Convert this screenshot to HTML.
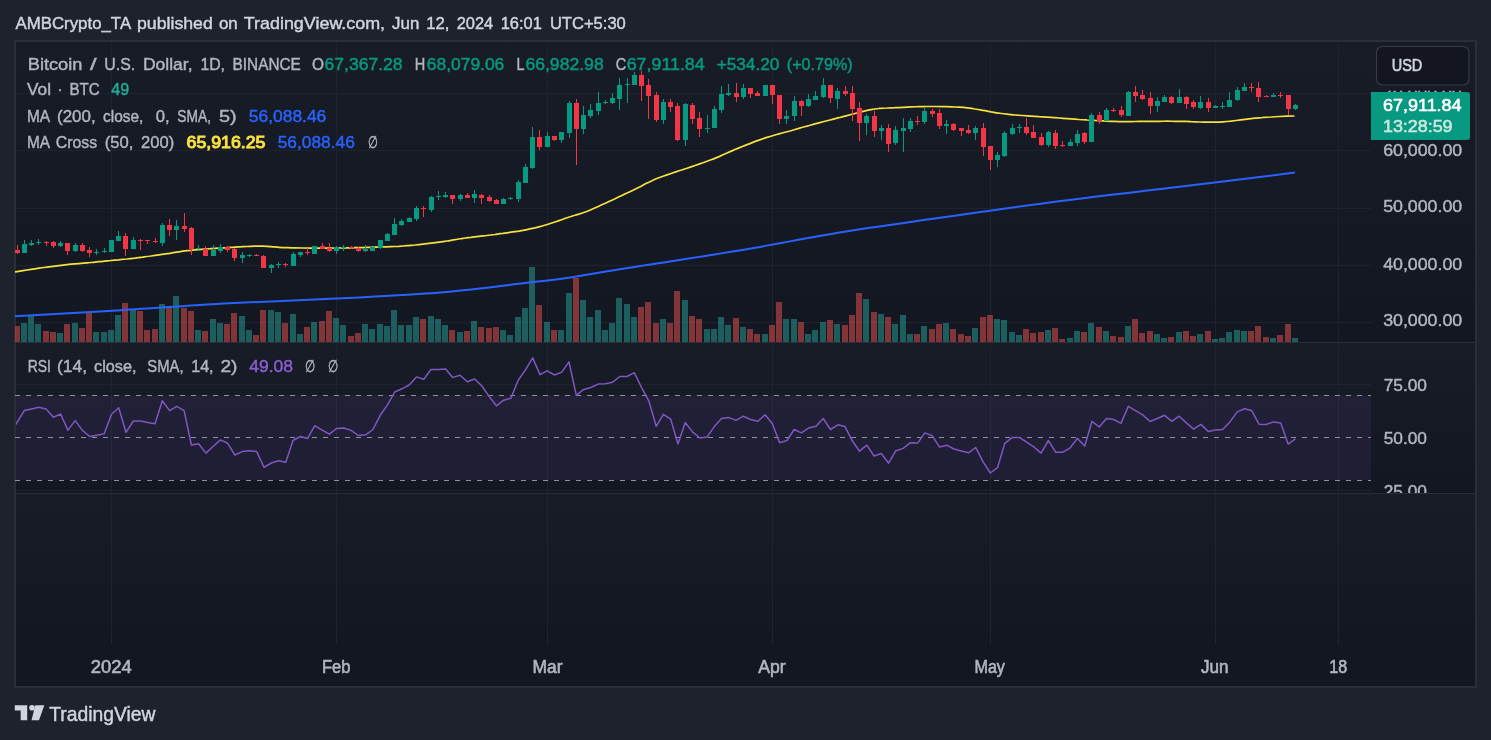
<!DOCTYPE html>
<html><head><meta charset="utf-8"><style>html,body{margin:0;padding:0;background:#1e222d;width:1491px;height:740px;overflow:hidden}svg{display:block;will-change:transform}</style></head>
<body><svg width="1491" height="740" viewBox="0 0 1491 740"><rect x="0" y="0" width="1491" height="740" fill="#1e222d"/><defs><linearGradient id="bg" x1="0" y1="0" x2="0" y2="1"><stop offset="0" stop-color="#181c27"/><stop offset="1" stop-color="#131722"/></linearGradient><clipPath id="main"><rect x="15" y="42" width="1356" height="300"/></clipPath><clipPath id="rsi"><rect x="16" y="343" width="1355" height="150"/></clipPath></defs><rect x="14" y="40" width="1463" height="648" fill="#2a2e39"/><rect x="16" y="42" width="1459" height="644" fill="#131722"/><rect x="16" y="42" width="1459" height="300" fill="url(#bg)"/><rect x="16" y="343" width="1459" height="150" fill="url(#bg)"/><rect x="16" y="494" width="1459" height="151" fill="url(#bg)"/><rect x="111" y="42" width="1" height="603" fill="#1f2330"/><rect x="336" y="42" width="1" height="603" fill="#1f2330"/><rect x="547" y="42" width="1" height="603" fill="#1f2330"/><rect x="772" y="42" width="1" height="603" fill="#1f2330"/><rect x="990" y="42" width="1" height="603" fill="#1f2330"/><rect x="1215" y="42" width="1" height="603" fill="#1f2330"/><rect x="1338" y="42" width="1" height="603" fill="#1f2330"/><rect x="16" y="93" width="1355" height="1" fill="#1f2330"/><rect x="16" y="150" width="1355" height="1" fill="#1f2330"/><rect x="16" y="208" width="1355" height="1" fill="#1f2330"/><rect x="16" y="265" width="1355" height="1" fill="#1f2330"/><rect x="16" y="322" width="1355" height="1" fill="#1f2330"/><rect x="16" y="342" width="1459" height="1" fill="#2a2e39"/><rect x="16" y="493" width="1459" height="1" fill="#2a2e39"/><rect x="16" y="384" width="1355" height="1" fill="#1f2330"/><rect x="16" y="490" width="1355" height="1" fill="#1f2330"/><g clip-path="url(#main)"><rect x="14" y="326" width="6" height="16" fill="rgba(239,83,80,0.5)"/><rect x="21" y="323" width="6" height="19" fill="rgba(38,166,154,0.5)"/><rect x="28" y="316" width="6" height="26" fill="rgba(38,166,154,0.5)"/><rect x="35" y="324" width="6" height="18" fill="rgba(38,166,154,0.5)"/><rect x="43" y="331" width="6" height="11" fill="rgba(239,83,80,0.5)"/><rect x="50" y="332" width="6" height="10" fill="rgba(239,83,80,0.5)"/><rect x="57" y="333" width="6" height="9" fill="rgba(38,166,154,0.5)"/><rect x="64" y="324" width="6" height="18" fill="rgba(239,83,80,0.5)"/><rect x="72" y="323" width="6" height="19" fill="rgba(38,166,154,0.5)"/><rect x="79" y="328" width="6" height="14" fill="rgba(239,83,80,0.5)"/><rect x="86" y="312" width="6" height="30" fill="rgba(239,83,80,0.5)"/><rect x="93" y="332" width="6" height="10" fill="rgba(38,166,154,0.5)"/><rect x="101" y="332" width="6" height="10" fill="rgba(38,166,154,0.5)"/><rect x="108" y="330" width="6" height="12" fill="rgba(38,166,154,0.5)"/><rect x="115" y="315" width="6" height="27" fill="rgba(38,166,154,0.5)"/><rect x="122" y="303" width="6" height="39" fill="rgba(239,83,80,0.5)"/><rect x="130" y="309" width="6" height="33" fill="rgba(38,166,154,0.5)"/><rect x="137" y="311" width="6" height="31" fill="rgba(239,83,80,0.5)"/><rect x="144" y="330" width="6" height="12" fill="rgba(239,83,80,0.5)"/><rect x="152" y="329" width="6" height="13" fill="rgba(239,83,80,0.5)"/><rect x="159" y="304" width="6" height="38" fill="rgba(38,166,154,0.5)"/><rect x="166" y="306" width="6" height="36" fill="rgba(239,83,80,0.5)"/><rect x="173" y="296" width="6" height="46" fill="rgba(38,166,154,0.5)"/><rect x="181" y="308" width="6" height="34" fill="rgba(239,83,80,0.5)"/><rect x="188" y="311" width="6" height="31" fill="rgba(239,83,80,0.5)"/><rect x="195" y="330" width="6" height="12" fill="rgba(38,166,154,0.5)"/><rect x="202" y="331" width="6" height="11" fill="rgba(239,83,80,0.5)"/><rect x="210" y="319" width="6" height="23" fill="rgba(38,166,154,0.5)"/><rect x="217" y="323" width="6" height="19" fill="rgba(38,166,154,0.5)"/><rect x="224" y="324" width="6" height="18" fill="rgba(239,83,80,0.5)"/><rect x="231" y="313" width="6" height="29" fill="rgba(239,83,80,0.5)"/><rect x="239" y="316" width="6" height="26" fill="rgba(38,166,154,0.5)"/><rect x="246" y="330" width="6" height="12" fill="rgba(38,166,154,0.5)"/><rect x="253" y="335" width="6" height="7" fill="rgba(239,83,80,0.5)"/><rect x="260" y="310" width="6" height="32" fill="rgba(239,83,80,0.5)"/><rect x="268" y="310" width="6" height="32" fill="rgba(38,166,154,0.5)"/><rect x="275" y="312" width="6" height="30" fill="rgba(38,166,154,0.5)"/><rect x="282" y="323" width="6" height="19" fill="rgba(239,83,80,0.5)"/><rect x="290" y="314" width="6" height="28" fill="rgba(38,166,154,0.5)"/><rect x="297" y="334" width="6" height="8" fill="rgba(38,166,154,0.5)"/><rect x="304" y="327" width="6" height="15" fill="rgba(239,83,80,0.5)"/><rect x="311" y="322" width="6" height="20" fill="rgba(38,166,154,0.5)"/><rect x="319" y="321" width="6" height="21" fill="rgba(239,83,80,0.5)"/><rect x="326" y="311" width="6" height="31" fill="rgba(239,83,80,0.5)"/><rect x="333" y="318" width="6" height="24" fill="rgba(38,166,154,0.5)"/><rect x="340" y="325" width="6" height="17" fill="rgba(38,166,154,0.5)"/><rect x="348" y="336" width="6" height="6" fill="rgba(239,83,80,0.5)"/><rect x="355" y="333" width="6" height="9" fill="rgba(239,83,80,0.5)"/><rect x="362" y="324" width="6" height="18" fill="rgba(38,166,154,0.5)"/><rect x="369" y="329" width="6" height="13" fill="rgba(38,166,154,0.5)"/><rect x="377" y="324" width="6" height="18" fill="rgba(38,166,154,0.5)"/><rect x="384" y="326" width="6" height="16" fill="rgba(38,166,154,0.5)"/><rect x="391" y="310" width="6" height="32" fill="rgba(38,166,154,0.5)"/><rect x="398" y="325" width="6" height="17" fill="rgba(38,166,154,0.5)"/><rect x="406" y="325" width="6" height="17" fill="rgba(38,166,154,0.5)"/><rect x="413" y="317" width="6" height="25" fill="rgba(38,166,154,0.5)"/><rect x="420" y="319" width="6" height="23" fill="rgba(239,83,80,0.5)"/><rect x="428" y="316" width="6" height="26" fill="rgba(38,166,154,0.5)"/><rect x="435" y="319" width="6" height="23" fill="rgba(38,166,154,0.5)"/><rect x="442" y="325" width="6" height="17" fill="rgba(38,166,154,0.5)"/><rect x="449" y="330" width="6" height="12" fill="rgba(239,83,80,0.5)"/><rect x="457" y="332" width="6" height="10" fill="rgba(38,166,154,0.5)"/><rect x="464" y="331" width="6" height="11" fill="rgba(239,83,80,0.5)"/><rect x="471" y="321" width="6" height="21" fill="rgba(38,166,154,0.5)"/><rect x="478" y="327" width="6" height="15" fill="rgba(239,83,80,0.5)"/><rect x="486" y="328" width="6" height="14" fill="rgba(239,83,80,0.5)"/><rect x="493" y="327" width="6" height="15" fill="rgba(239,83,80,0.5)"/><rect x="500" y="330" width="6" height="12" fill="rgba(38,166,154,0.5)"/><rect x="507" y="335" width="6" height="7" fill="rgba(38,166,154,0.5)"/><rect x="515" y="317" width="6" height="25" fill="rgba(38,166,154,0.5)"/><rect x="522" y="308" width="6" height="34" fill="rgba(38,166,154,0.5)"/><rect x="529" y="267" width="6" height="75" fill="rgba(38,166,154,0.5)"/><rect x="536" y="305" width="6" height="37" fill="rgba(239,83,80,0.5)"/><rect x="544" y="322" width="6" height="20" fill="rgba(38,166,154,0.5)"/><rect x="551" y="330" width="6" height="12" fill="rgba(239,83,80,0.5)"/><rect x="558" y="330" width="6" height="12" fill="rgba(38,166,154,0.5)"/><rect x="566" y="293" width="6" height="49" fill="rgba(38,166,154,0.5)"/><rect x="573" y="278" width="6" height="64" fill="rgba(239,83,80,0.5)"/><rect x="580" y="300" width="6" height="42" fill="rgba(38,166,154,0.5)"/><rect x="587" y="317" width="6" height="25" fill="rgba(38,166,154,0.5)"/><rect x="595" y="310" width="6" height="32" fill="rgba(38,166,154,0.5)"/><rect x="602" y="330" width="6" height="12" fill="rgba(38,166,154,0.5)"/><rect x="609" y="323" width="6" height="19" fill="rgba(38,166,154,0.5)"/><rect x="616" y="298" width="6" height="44" fill="rgba(38,166,154,0.5)"/><rect x="624" y="304" width="6" height="38" fill="rgba(38,166,154,0.5)"/><rect x="631" y="317" width="6" height="25" fill="rgba(38,166,154,0.5)"/><rect x="638" y="307" width="6" height="35" fill="rgba(239,83,80,0.5)"/><rect x="645" y="302" width="6" height="40" fill="rgba(239,83,80,0.5)"/><rect x="653" y="323" width="6" height="19" fill="rgba(239,83,80,0.5)"/><rect x="660" y="319" width="6" height="23" fill="rgba(38,166,154,0.5)"/><rect x="667" y="323" width="6" height="19" fill="rgba(239,83,80,0.5)"/><rect x="674" y="291" width="6" height="51" fill="rgba(239,83,80,0.5)"/><rect x="682" y="300" width="6" height="42" fill="rgba(38,166,154,0.5)"/><rect x="689" y="316" width="6" height="26" fill="rgba(239,83,80,0.5)"/><rect x="696" y="319" width="6" height="23" fill="rgba(239,83,80,0.5)"/><rect x="704" y="329" width="6" height="13" fill="rgba(38,166,154,0.5)"/><rect x="711" y="329" width="6" height="13" fill="rgba(38,166,154,0.5)"/><rect x="718" y="317" width="6" height="25" fill="rgba(38,166,154,0.5)"/><rect x="725" y="325" width="6" height="17" fill="rgba(38,166,154,0.5)"/><rect x="733" y="318" width="6" height="24" fill="rgba(239,83,80,0.5)"/><rect x="740" y="327" width="6" height="15" fill="rgba(38,166,154,0.5)"/><rect x="747" y="329" width="6" height="13" fill="rgba(239,83,80,0.5)"/><rect x="754" y="334" width="6" height="8" fill="rgba(239,83,80,0.5)"/><rect x="762" y="334" width="6" height="8" fill="rgba(38,166,154,0.5)"/><rect x="769" y="325" width="6" height="17" fill="rgba(239,83,80,0.5)"/><rect x="776" y="302" width="6" height="40" fill="rgba(239,83,80,0.5)"/><rect x="783" y="319" width="6" height="23" fill="rgba(38,166,154,0.5)"/><rect x="791" y="319" width="6" height="23" fill="rgba(38,166,154,0.5)"/><rect x="798" y="322" width="6" height="20" fill="rgba(239,83,80,0.5)"/><rect x="805" y="334" width="6" height="8" fill="rgba(38,166,154,0.5)"/><rect x="812" y="330" width="6" height="12" fill="rgba(38,166,154,0.5)"/><rect x="820" y="322" width="6" height="20" fill="rgba(38,166,154,0.5)"/><rect x="827" y="320" width="6" height="22" fill="rgba(239,83,80,0.5)"/><rect x="834" y="324" width="6" height="18" fill="rgba(38,166,154,0.5)"/><rect x="842" y="325" width="6" height="17" fill="rgba(239,83,80,0.5)"/><rect x="849" y="315" width="6" height="27" fill="rgba(239,83,80,0.5)"/><rect x="856" y="293" width="6" height="49" fill="rgba(239,83,80,0.5)"/><rect x="863" y="299" width="6" height="43" fill="rgba(38,166,154,0.5)"/><rect x="871" y="312" width="6" height="30" fill="rgba(239,83,80,0.5)"/><rect x="878" y="314" width="6" height="28" fill="rgba(38,166,154,0.5)"/><rect x="885" y="317" width="6" height="25" fill="rgba(239,83,80,0.5)"/><rect x="892" y="324" width="6" height="18" fill="rgba(38,166,154,0.5)"/><rect x="900" y="315" width="6" height="27" fill="rgba(38,166,154,0.5)"/><rect x="907" y="334" width="6" height="8" fill="rgba(38,166,154,0.5)"/><rect x="914" y="334" width="6" height="8" fill="rgba(239,83,80,0.5)"/><rect x="921" y="326" width="6" height="16" fill="rgba(38,166,154,0.5)"/><rect x="929" y="329" width="6" height="13" fill="rgba(239,83,80,0.5)"/><rect x="936" y="324" width="6" height="18" fill="rgba(239,83,80,0.5)"/><rect x="943" y="323" width="6" height="19" fill="rgba(38,166,154,0.5)"/><rect x="950" y="329" width="6" height="13" fill="rgba(239,83,80,0.5)"/><rect x="958" y="334" width="6" height="8" fill="rgba(239,83,80,0.5)"/><rect x="965" y="336" width="6" height="6" fill="rgba(239,83,80,0.5)"/><rect x="972" y="328" width="6" height="14" fill="rgba(38,166,154,0.5)"/><rect x="980" y="317" width="6" height="25" fill="rgba(239,83,80,0.5)"/><rect x="987" y="315" width="6" height="27" fill="rgba(239,83,80,0.5)"/><rect x="994" y="319" width="6" height="23" fill="rgba(38,166,154,0.5)"/><rect x="1001" y="320" width="6" height="22" fill="rgba(38,166,154,0.5)"/><rect x="1009" y="332" width="6" height="10" fill="rgba(38,166,154,0.5)"/><rect x="1016" y="335" width="6" height="7" fill="rgba(38,166,154,0.5)"/><rect x="1023" y="329" width="6" height="13" fill="rgba(239,83,80,0.5)"/><rect x="1030" y="333" width="6" height="9" fill="rgba(239,83,80,0.5)"/><rect x="1038" y="332" width="6" height="10" fill="rgba(239,83,80,0.5)"/><rect x="1045" y="330" width="6" height="12" fill="rgba(38,166,154,0.5)"/><rect x="1052" y="328" width="6" height="14" fill="rgba(239,83,80,0.5)"/><rect x="1059" y="339" width="6" height="3" fill="rgba(239,83,80,0.5)"/><rect x="1067" y="338" width="6" height="4" fill="rgba(38,166,154,0.5)"/><rect x="1074" y="331" width="6" height="11" fill="rgba(38,166,154,0.5)"/><rect x="1081" y="332" width="6" height="10" fill="rgba(239,83,80,0.5)"/><rect x="1088" y="323" width="6" height="19" fill="rgba(38,166,154,0.5)"/><rect x="1096" y="327" width="6" height="15" fill="rgba(239,83,80,0.5)"/><rect x="1103" y="331" width="6" height="11" fill="rgba(38,166,154,0.5)"/><rect x="1110" y="336" width="6" height="6" fill="rgba(239,83,80,0.5)"/><rect x="1118" y="337" width="6" height="5" fill="rgba(239,83,80,0.5)"/><rect x="1125" y="326" width="6" height="16" fill="rgba(38,166,154,0.5)"/><rect x="1132" y="319" width="6" height="23" fill="rgba(239,83,80,0.5)"/><rect x="1139" y="333" width="6" height="9" fill="rgba(239,83,80,0.5)"/><rect x="1147" y="331" width="6" height="11" fill="rgba(239,83,80,0.5)"/><rect x="1154" y="334" width="6" height="8" fill="rgba(38,166,154,0.5)"/><rect x="1161" y="338" width="6" height="4" fill="rgba(38,166,154,0.5)"/><rect x="1168" y="337" width="6" height="5" fill="rgba(239,83,80,0.5)"/><rect x="1176" y="332" width="6" height="10" fill="rgba(38,166,154,0.5)"/><rect x="1183" y="331" width="6" height="11" fill="rgba(239,83,80,0.5)"/><rect x="1190" y="336" width="6" height="6" fill="rgba(239,83,80,0.5)"/><rect x="1197" y="334" width="6" height="8" fill="rgba(38,166,154,0.5)"/><rect x="1205" y="331" width="6" height="11" fill="rgba(239,83,80,0.5)"/><rect x="1212" y="339" width="6" height="3" fill="rgba(38,166,154,0.5)"/><rect x="1219" y="338" width="6" height="4" fill="rgba(38,166,154,0.5)"/><rect x="1226" y="332" width="6" height="10" fill="rgba(38,166,154,0.5)"/><rect x="1234" y="330" width="6" height="12" fill="rgba(38,166,154,0.5)"/><rect x="1241" y="331" width="6" height="11" fill="rgba(38,166,154,0.5)"/><rect x="1248" y="331" width="6" height="11" fill="rgba(239,83,80,0.5)"/><rect x="1255" y="326" width="6" height="16" fill="rgba(239,83,80,0.5)"/><rect x="1263" y="337" width="6" height="5" fill="rgba(239,83,80,0.5)"/><rect x="1270" y="338" width="6" height="4" fill="rgba(38,166,154,0.5)"/><rect x="1277" y="335" width="6" height="7" fill="rgba(239,83,80,0.5)"/><rect x="1285" y="324" width="6" height="18" fill="rgba(239,83,80,0.5)"/><rect x="1292" y="338" width="6" height="4" fill="rgba(38,166,154,0.5)"/><path d="M14.0,316.2 C31.9,315.2 85.5,312.3 121.3,310.2 C157.1,308.1 192.8,305.2 228.6,303.3 C264.4,301.4 300.1,300.5 335.9,298.6 C371.7,296.8 411.0,294.9 443.2,292.2 C475.4,289.5 507.5,285.0 529.0,282.5 C550.5,280.0 553.5,279.9 572.0,277.2 C590.5,274.4 611.9,270.5 640.0,266.0 C668.1,261.5 707.1,255.9 740.6,250.3 C774.1,244.7 808.0,237.6 841.2,232.2 C874.4,226.8 903.4,223.0 940.0,217.8 C976.6,212.6 1020.5,206.2 1060.7,201.0 C1100.9,195.8 1142.4,191.3 1181.4,186.6 C1220.5,181.9 1276.1,174.9 1295.0,172.6" fill="none" stroke="#2962ff" stroke-width="2"/><path d="M15.0,271.9 C16.3,271.7 20.3,271.1 23.0,270.6 C25.7,270.2 28.3,269.8 31.0,269.4 C33.7,269.0 36.3,268.6 39.0,268.2 C41.7,267.9 44.3,267.5 47.0,267.1 C49.7,266.8 52.3,266.4 55.0,266.1 C57.7,265.8 60.3,265.4 63.0,265.1 C65.7,264.8 68.3,264.5 71.0,264.2 C73.7,264.0 76.3,263.8 79.0,263.6 C81.7,263.4 84.3,263.2 87.0,262.9 C89.7,262.6 92.3,262.4 95.0,262.1 C97.7,261.8 100.3,261.6 103.0,261.3 C105.7,261.0 108.3,260.8 111.0,260.5 C113.7,260.2 116.3,260.0 119.0,259.8 C121.7,259.5 124.3,259.2 127.0,259.0 C129.7,258.7 132.3,258.4 135.0,258.1 C137.7,257.7 140.3,257.4 143.0,257.1 C145.7,256.7 148.3,256.3 151.0,256.0 C153.7,255.6 156.3,255.2 159.0,254.8 C161.7,254.5 164.3,254.1 167.0,253.7 C169.7,253.3 172.3,252.8 175.0,252.4 C177.7,252.0 180.3,251.6 183.0,251.2 C185.7,250.8 188.3,250.5 191.0,250.3 C193.7,250.0 196.3,249.8 199.0,249.6 C201.7,249.3 204.3,249.2 207.0,249.0 C209.7,248.8 212.3,248.6 215.0,248.4 C217.7,248.3 220.3,248.1 223.0,247.9 C225.7,247.7 228.3,247.6 231.0,247.4 C233.7,247.2 236.3,247.1 239.0,246.9 C241.7,246.8 244.3,246.6 247.0,246.5 C249.7,246.3 252.3,246.2 255.0,246.1 C257.7,246.1 260.3,246.1 263.0,246.2 C265.7,246.3 268.3,246.5 271.0,246.6 C273.7,246.8 276.3,247.1 279.0,247.3 C281.7,247.5 284.3,247.6 287.0,247.7 C289.7,247.8 292.3,247.9 295.0,247.9 C297.7,248.0 300.3,248.0 303.0,248.0 C305.7,248.1 308.3,248.1 311.0,248.1 C313.7,248.1 316.3,248.1 319.0,248.1 C321.7,248.1 324.3,248.1 327.0,248.1 C329.7,248.1 332.3,248.0 335.0,248.0 C337.7,248.0 340.3,248.0 343.0,247.9 C345.7,247.9 348.3,247.9 351.0,247.8 C353.7,247.7 356.3,247.7 359.0,247.6 C361.7,247.6 364.3,247.5 367.0,247.4 C369.7,247.3 372.3,247.3 375.0,247.2 C377.7,247.1 380.3,247.0 383.0,246.9 C385.7,246.9 388.3,246.8 391.0,246.7 C393.7,246.6 396.3,246.4 399.0,246.3 C401.7,246.1 404.3,245.9 407.0,245.7 C409.7,245.5 412.3,245.2 415.0,245.0 C417.7,244.7 420.3,244.4 423.0,244.1 C425.7,243.8 428.3,243.5 431.0,243.2 C433.7,242.9 436.3,242.6 439.0,242.2 C441.7,241.8 444.3,241.4 447.0,241.0 C449.7,240.6 452.3,240.0 455.0,239.6 C457.7,239.1 460.3,238.8 463.0,238.4 C465.7,238.0 468.3,237.6 471.0,237.3 C473.7,236.9 476.3,236.6 479.0,236.3 C481.7,236.0 484.3,235.8 487.0,235.5 C489.7,235.2 492.3,234.8 495.0,234.5 C497.7,234.1 500.3,233.7 503.0,233.4 C505.7,233.0 508.3,232.6 511.0,232.2 C513.7,231.8 516.3,231.5 519.0,231.1 C521.7,230.6 524.3,230.1 527.0,229.6 C529.7,229.1 532.3,228.5 535.0,227.9 C537.7,227.2 540.3,226.5 543.0,225.8 C545.7,225.0 548.3,224.2 551.0,223.3 C553.7,222.4 556.3,221.5 559.0,220.6 C561.7,219.7 564.3,218.7 567.0,217.8 C569.7,217.0 572.3,216.1 575.0,215.3 C577.7,214.4 580.3,213.7 583.0,212.7 C585.7,211.8 588.3,210.8 591.0,209.7 C593.7,208.6 596.3,207.4 599.0,206.2 C601.7,205.0 604.3,203.7 607.0,202.5 C609.7,201.2 612.3,199.9 615.0,198.7 C617.7,197.4 620.3,196.2 623.0,194.9 C625.7,193.7 628.3,192.5 631.0,191.2 C633.7,189.9 636.3,188.6 639.0,187.3 C641.7,185.9 644.3,184.4 647.0,183.1 C649.7,181.8 652.3,180.5 655.0,179.3 C657.7,178.2 660.3,177.2 663.0,176.2 C665.7,175.3 668.3,174.4 671.0,173.5 C673.7,172.6 676.3,171.7 679.0,170.8 C681.7,170.0 684.3,169.1 687.0,168.2 C689.7,167.3 692.3,166.4 695.0,165.5 C697.7,164.6 700.3,163.7 703.0,162.8 C705.7,161.8 708.3,160.8 711.0,159.8 C713.7,158.8 716.3,157.7 719.0,156.6 C721.7,155.4 724.3,154.2 727.0,153.0 C729.7,151.9 732.3,150.7 735.0,149.5 C737.7,148.4 740.3,147.3 743.0,146.2 C745.7,145.2 748.3,144.1 751.0,143.1 C753.7,142.0 756.3,141.0 759.0,140.1 C761.7,139.1 764.3,138.3 767.0,137.4 C769.7,136.6 772.3,135.8 775.0,135.0 C777.7,134.2 780.3,133.6 783.0,132.8 C785.7,132.1 788.3,131.4 791.0,130.7 C793.7,129.9 796.3,129.2 799.0,128.4 C801.7,127.7 804.3,126.9 807.0,126.1 C809.7,125.4 812.3,124.6 815.0,123.9 C817.7,123.2 820.3,122.5 823.0,121.8 C825.7,121.1 828.3,120.4 831.0,119.7 C833.7,119.0 836.3,118.3 839.0,117.7 C841.7,117.0 844.3,116.3 847.0,115.6 C849.7,114.9 852.3,114.2 855.0,113.5 C857.7,112.8 860.3,112.1 863.0,111.4 C865.7,110.8 868.3,110.2 871.0,109.7 C873.7,109.2 876.3,108.8 879.0,108.5 C881.7,108.3 884.3,108.1 887.0,108.0 C889.7,107.8 892.3,107.8 895.0,107.7 C897.7,107.5 900.3,107.4 903.0,107.3 C905.7,107.2 908.3,107.0 911.0,106.9 C913.7,106.8 916.3,106.7 919.0,106.6 C921.7,106.6 924.3,106.5 927.0,106.5 C929.7,106.5 932.3,106.5 935.0,106.5 C937.7,106.5 940.3,106.5 943.0,106.6 C945.7,106.7 948.3,106.7 951.0,106.8 C953.7,106.9 956.3,107.1 959.0,107.2 C961.7,107.4 964.3,107.6 967.0,107.9 C969.7,108.2 972.3,108.5 975.0,109.0 C977.7,109.4 980.3,109.9 983.0,110.4 C985.7,110.8 988.3,111.4 991.0,111.9 C993.7,112.3 996.3,112.8 999.0,113.2 C1001.7,113.6 1004.3,114.0 1007.0,114.2 C1009.7,114.5 1012.3,114.7 1015.0,115.0 C1017.7,115.2 1020.3,115.3 1023.0,115.5 C1025.7,115.7 1028.3,115.9 1031.0,116.1 C1033.7,116.3 1036.3,116.5 1039.0,116.7 C1041.7,116.8 1044.3,117.0 1047.0,117.2 C1049.7,117.4 1052.3,117.5 1055.0,117.7 C1057.7,117.9 1060.3,118.1 1063.0,118.3 C1065.7,118.5 1068.3,118.7 1071.0,118.9 C1073.7,119.1 1076.3,119.3 1079.0,119.5 C1081.7,119.6 1084.3,119.8 1087.0,120.0 C1089.7,120.1 1092.3,120.3 1095.0,120.5 C1097.7,120.6 1100.3,120.8 1103.0,120.9 C1105.7,121.1 1108.3,121.2 1111.0,121.3 C1113.7,121.4 1116.3,121.5 1119.0,121.6 C1121.7,121.6 1124.3,121.6 1127.0,121.6 C1129.7,121.6 1132.3,121.5 1135.0,121.5 C1137.7,121.5 1140.3,121.4 1143.0,121.4 C1145.7,121.4 1148.3,121.4 1151.0,121.3 C1153.7,121.3 1156.3,121.3 1159.0,121.3 C1161.7,121.3 1164.3,121.2 1167.0,121.2 C1169.7,121.2 1172.3,121.3 1175.0,121.3 C1177.7,121.3 1180.3,121.3 1183.0,121.3 C1185.7,121.4 1188.3,121.4 1191.0,121.6 C1193.7,121.7 1196.3,121.9 1199.0,122.0 C1201.7,122.1 1204.3,122.2 1207.0,122.2 C1209.7,122.2 1212.3,122.2 1215.0,122.1 C1217.7,122.1 1220.3,122.0 1223.0,121.8 C1225.7,121.6 1228.3,121.4 1231.0,121.2 C1233.7,120.9 1236.3,120.5 1239.0,120.1 C1241.7,119.8 1244.3,119.4 1247.0,119.1 C1249.7,118.8 1252.3,118.5 1255.0,118.2 C1257.7,118.0 1260.3,117.7 1263.0,117.5 C1265.7,117.3 1268.3,117.1 1271.0,117.0 C1273.7,116.8 1276.3,116.7 1279.0,116.5 C1281.7,116.4 1284.4,116.3 1287.0,116.2 C1289.6,116.1 1293.2,116.0 1294.5,116.0" fill="none" stroke="#f7e13f" stroke-width="1.7"/><rect x="17" y="245" width="1" height="9" fill="#f23645"/><rect x="15" y="250" width="5" height="3" fill="#f23645"/><rect x="24" y="240" width="1" height="13" fill="#089981"/><rect x="22" y="244" width="5" height="9" fill="#089981"/><rect x="31" y="240" width="1" height="6" fill="#089981"/><rect x="29" y="243" width="5" height="2" fill="#089981"/><rect x="38" y="239" width="1" height="6" fill="#089981"/><rect x="36" y="242" width="5" height="1" fill="#089981"/><rect x="46" y="241" width="1" height="5" fill="#f23645"/><rect x="44" y="242" width="5" height="1" fill="#f23645"/><rect x="53" y="241" width="1" height="7" fill="#f23645"/><rect x="51" y="242" width="5" height="4" fill="#f23645"/><rect x="60" y="241" width="1" height="6" fill="#089981"/><rect x="58" y="243" width="5" height="3" fill="#089981"/><rect x="67" y="243" width="1" height="12" fill="#f23645"/><rect x="65" y="243" width="5" height="8" fill="#f23645"/><rect x="75" y="243" width="1" height="9" fill="#089981"/><rect x="73" y="245" width="5" height="6" fill="#089981"/><rect x="82" y="243" width="1" height="9" fill="#f23645"/><rect x="80" y="245" width="5" height="6" fill="#f23645"/><rect x="89" y="247" width="1" height="10" fill="#f23645"/><rect x="87" y="250" width="5" height="3" fill="#f23645"/><rect x="96" y="249" width="1" height="6" fill="#089981"/><rect x="94" y="252" width="5" height="1" fill="#089981"/><rect x="104" y="248" width="1" height="5" fill="#089981"/><rect x="102" y="251" width="5" height="1" fill="#089981"/><rect x="111" y="240" width="1" height="12" fill="#089981"/><rect x="109" y="240" width="5" height="12" fill="#089981"/><rect x="118" y="231" width="1" height="10" fill="#089981"/><rect x="116" y="236" width="5" height="5" fill="#089981"/><rect x="125" y="233" width="1" height="23" fill="#f23645"/><rect x="123" y="236" width="5" height="13" fill="#f23645"/><rect x="133" y="237" width="1" height="12" fill="#089981"/><rect x="131" y="240" width="5" height="9" fill="#089981"/><rect x="140" y="239" width="1" height="11" fill="#f23645"/><rect x="138" y="240" width="5" height="1" fill="#f23645"/><rect x="147" y="240" width="1" height="4" fill="#f23645"/><rect x="145" y="240" width="5" height="1" fill="#f23645"/><rect x="155" y="238" width="1" height="5" fill="#f23645"/><rect x="153" y="241" width="5" height="1" fill="#f23645"/><rect x="162" y="223" width="1" height="23" fill="#089981"/><rect x="160" y="225" width="5" height="18" fill="#089981"/><rect x="169" y="219" width="1" height="17" fill="#f23645"/><rect x="167" y="225" width="5" height="5" fill="#f23645"/><rect x="176" y="220" width="1" height="20" fill="#089981"/><rect x="174" y="226" width="5" height="4" fill="#089981"/><rect x="184" y="213" width="1" height="19" fill="#f23645"/><rect x="182" y="226" width="5" height="3" fill="#f23645"/><rect x="191" y="227" width="1" height="28" fill="#f23645"/><rect x="189" y="228" width="5" height="21" fill="#f23645"/><rect x="198" y="245" width="1" height="5" fill="#089981"/><rect x="196" y="248" width="5" height="1" fill="#089981"/><rect x="205" y="246" width="1" height="10" fill="#f23645"/><rect x="203" y="249" width="5" height="7" fill="#f23645"/><rect x="213" y="245" width="1" height="11" fill="#089981"/><rect x="211" y="250" width="5" height="6" fill="#089981"/><rect x="220" y="244" width="1" height="9" fill="#089981"/><rect x="218" y="247" width="5" height="4" fill="#089981"/><rect x="227" y="246" width="1" height="6" fill="#f23645"/><rect x="225" y="247" width="5" height="3" fill="#f23645"/><rect x="234" y="248" width="1" height="13" fill="#f23645"/><rect x="232" y="249" width="5" height="9" fill="#f23645"/><rect x="242" y="252" width="1" height="11" fill="#089981"/><rect x="240" y="255" width="5" height="3" fill="#089981"/><rect x="249" y="254" width="1" height="3" fill="#089981"/><rect x="247" y="255" width="5" height="1" fill="#089981"/><rect x="256" y="254" width="1" height="2" fill="#f23645"/><rect x="254" y="255" width="5" height="1" fill="#f23645"/><rect x="263" y="255" width="1" height="13" fill="#f23645"/><rect x="261" y="256" width="5" height="12" fill="#f23645"/><rect x="271" y="264" width="1" height="9" fill="#089981"/><rect x="269" y="265" width="5" height="3" fill="#089981"/><rect x="278" y="262" width="1" height="6" fill="#089981"/><rect x="276" y="264" width="5" height="1" fill="#089981"/><rect x="285" y="263" width="1" height="4" fill="#f23645"/><rect x="283" y="264" width="5" height="1" fill="#f23645"/><rect x="293" y="252" width="1" height="14" fill="#089981"/><rect x="291" y="254" width="5" height="12" fill="#089981"/><rect x="300" y="252" width="1" height="5" fill="#089981"/><rect x="298" y="252" width="5" height="3" fill="#089981"/><rect x="307" y="248" width="1" height="7" fill="#f23645"/><rect x="305" y="252" width="5" height="1" fill="#f23645"/><rect x="314" y="246" width="1" height="8" fill="#089981"/><rect x="312" y="246" width="5" height="8" fill="#089981"/><rect x="322" y="243" width="1" height="6" fill="#f23645"/><rect x="320" y="246" width="5" height="3" fill="#f23645"/><rect x="329" y="243" width="1" height="9" fill="#f23645"/><rect x="327" y="248" width="5" height="3" fill="#f23645"/><rect x="336" y="246" width="1" height="8" fill="#089981"/><rect x="334" y="247" width="5" height="4" fill="#089981"/><rect x="343" y="245" width="1" height="6" fill="#089981"/><rect x="341" y="247" width="5" height="1" fill="#089981"/><rect x="351" y="246" width="1" height="3" fill="#f23645"/><rect x="349" y="247" width="5" height="1" fill="#f23645"/><rect x="358" y="247" width="1" height="5" fill="#f23645"/><rect x="356" y="248" width="5" height="3" fill="#f23645"/><rect x="365" y="245" width="1" height="7" fill="#089981"/><rect x="363" y="249" width="5" height="2" fill="#089981"/><rect x="372" y="247" width="1" height="4" fill="#089981"/><rect x="370" y="247" width="5" height="4" fill="#089981"/><rect x="380" y="240" width="1" height="9" fill="#089981"/><rect x="378" y="240" width="5" height="8" fill="#089981"/><rect x="387" y="233" width="1" height="8" fill="#089981"/><rect x="385" y="234" width="5" height="7" fill="#089981"/><rect x="394" y="218" width="1" height="17" fill="#089981"/><rect x="392" y="224" width="5" height="11" fill="#089981"/><rect x="401" y="219" width="1" height="7" fill="#089981"/><rect x="399" y="221" width="5" height="4" fill="#089981"/><rect x="409" y="217" width="1" height="5" fill="#089981"/><rect x="407" y="218" width="5" height="4" fill="#089981"/><rect x="416" y="206" width="1" height="15" fill="#089981"/><rect x="414" y="208" width="5" height="11" fill="#089981"/><rect x="423" y="206" width="1" height="11" fill="#f23645"/><rect x="421" y="208" width="5" height="1" fill="#f23645"/><rect x="431" y="196" width="1" height="16" fill="#089981"/><rect x="429" y="197" width="5" height="13" fill="#089981"/><rect x="438" y="191" width="1" height="9" fill="#089981"/><rect x="436" y="196" width="5" height="1" fill="#089981"/><rect x="445" y="192" width="1" height="6" fill="#089981"/><rect x="443" y="195" width="5" height="2" fill="#089981"/><rect x="452" y="195" width="1" height="9" fill="#f23645"/><rect x="450" y="195" width="5" height="4" fill="#f23645"/><rect x="460" y="194" width="1" height="7" fill="#089981"/><rect x="458" y="195" width="5" height="4" fill="#089981"/><rect x="467" y="193" width="1" height="5" fill="#f23645"/><rect x="465" y="195" width="5" height="3" fill="#f23645"/><rect x="474" y="190" width="1" height="13" fill="#089981"/><rect x="472" y="194" width="5" height="4" fill="#089981"/><rect x="481" y="194" width="1" height="10" fill="#f23645"/><rect x="479" y="195" width="5" height="3" fill="#f23645"/><rect x="489" y="195" width="1" height="7" fill="#f23645"/><rect x="487" y="197" width="5" height="4" fill="#f23645"/><rect x="496" y="199" width="1" height="5" fill="#f23645"/><rect x="494" y="200" width="5" height="4" fill="#f23645"/><rect x="503" y="198" width="1" height="6" fill="#089981"/><rect x="501" y="199" width="5" height="5" fill="#089981"/><rect x="510" y="197" width="1" height="3" fill="#089981"/><rect x="508" y="198" width="5" height="1" fill="#089981"/><rect x="518" y="180" width="1" height="22" fill="#089981"/><rect x="516" y="182" width="5" height="17" fill="#089981"/><rect x="525" y="164" width="1" height="19" fill="#089981"/><rect x="523" y="167" width="5" height="16" fill="#089981"/><rect x="532" y="127" width="1" height="42" fill="#089981"/><rect x="530" y="137" width="5" height="31" fill="#089981"/><rect x="539" y="130" width="1" height="20" fill="#f23645"/><rect x="537" y="137" width="5" height="10" fill="#f23645"/><rect x="547" y="132" width="1" height="15" fill="#089981"/><rect x="545" y="136" width="5" height="11" fill="#089981"/><rect x="554" y="136" width="1" height="5" fill="#f23645"/><rect x="552" y="136" width="5" height="4" fill="#f23645"/><rect x="561" y="132" width="1" height="11" fill="#089981"/><rect x="559" y="132" width="5" height="8" fill="#089981"/><rect x="569" y="101" width="1" height="37" fill="#089981"/><rect x="567" y="103" width="5" height="30" fill="#089981"/><rect x="576" y="99" width="1" height="66" fill="#f23645"/><rect x="574" y="103" width="5" height="26" fill="#f23645"/><rect x="583" y="106" width="1" height="28" fill="#089981"/><rect x="581" y="115" width="5" height="14" fill="#089981"/><rect x="590" y="104" width="1" height="14" fill="#089981"/><rect x="588" y="110" width="5" height="6" fill="#089981"/><rect x="598" y="92" width="1" height="23" fill="#089981"/><rect x="596" y="103" width="5" height="8" fill="#089981"/><rect x="605" y="100" width="1" height="4" fill="#089981"/><rect x="603" y="102" width="5" height="1" fill="#089981"/><rect x="612" y="93" width="1" height="11" fill="#089981"/><rect x="610" y="98" width="5" height="5" fill="#089981"/><rect x="619" y="78" width="1" height="32" fill="#089981"/><rect x="617" y="85" width="5" height="14" fill="#089981"/><rect x="627" y="78" width="1" height="25" fill="#089981"/><rect x="625" y="84" width="5" height="1" fill="#089981"/><rect x="634" y="72" width="1" height="13" fill="#089981"/><rect x="632" y="75" width="5" height="10" fill="#089981"/><rect x="641" y="71" width="1" height="30" fill="#f23645"/><rect x="639" y="75" width="5" height="11" fill="#f23645"/><rect x="648" y="79" width="1" height="40" fill="#f23645"/><rect x="646" y="85" width="5" height="11" fill="#f23645"/><rect x="656" y="92" width="1" height="30" fill="#f23645"/><rect x="654" y="95" width="5" height="25" fill="#f23645"/><rect x="663" y="99" width="1" height="25" fill="#089981"/><rect x="661" y="102" width="5" height="18" fill="#089981"/><rect x="670" y="99" width="1" height="13" fill="#f23645"/><rect x="668" y="102" width="5" height="5" fill="#f23645"/><rect x="677" y="103" width="1" height="38" fill="#f23645"/><rect x="675" y="106" width="5" height="34" fill="#f23645"/><rect x="685" y="103" width="1" height="43" fill="#089981"/><rect x="683" y="104" width="5" height="36" fill="#089981"/><rect x="692" y="103" width="1" height="21" fill="#f23645"/><rect x="690" y="105" width="5" height="14" fill="#f23645"/><rect x="699" y="112" width="1" height="25" fill="#f23645"/><rect x="697" y="118" width="5" height="11" fill="#f23645"/><rect x="707" y="115" width="1" height="18" fill="#089981"/><rect x="705" y="128" width="5" height="1" fill="#089981"/><rect x="714" y="106" width="1" height="22" fill="#089981"/><rect x="712" y="109" width="5" height="19" fill="#089981"/><rect x="721" y="86" width="1" height="27" fill="#089981"/><rect x="719" y="94" width="5" height="16" fill="#089981"/><rect x="728" y="84" width="1" height="12" fill="#089981"/><rect x="726" y="93" width="5" height="2" fill="#089981"/><rect x="736" y="83" width="1" height="19" fill="#f23645"/><rect x="734" y="93" width="5" height="4" fill="#f23645"/><rect x="743" y="84" width="1" height="15" fill="#089981"/><rect x="741" y="88" width="5" height="9" fill="#089981"/><rect x="750" y="88" width="1" height="10" fill="#f23645"/><rect x="748" y="88" width="5" height="6" fill="#f23645"/><rect x="757" y="91" width="1" height="5" fill="#f23645"/><rect x="755" y="93" width="5" height="3" fill="#f23645"/><rect x="765" y="85" width="1" height="11" fill="#089981"/><rect x="763" y="85" width="5" height="11" fill="#089981"/><rect x="772" y="85" width="1" height="19" fill="#f23645"/><rect x="770" y="85" width="5" height="10" fill="#f23645"/><rect x="779" y="95" width="1" height="29" fill="#f23645"/><rect x="777" y="95" width="5" height="24" fill="#f23645"/><rect x="786" y="110" width="1" height="14" fill="#089981"/><rect x="784" y="116" width="5" height="3" fill="#089981"/><rect x="794" y="96" width="1" height="25" fill="#089981"/><rect x="792" y="101" width="5" height="15" fill="#089981"/><rect x="801" y="100" width="1" height="16" fill="#f23645"/><rect x="799" y="101" width="5" height="5" fill="#f23645"/><rect x="808" y="94" width="1" height="13" fill="#089981"/><rect x="806" y="99" width="5" height="7" fill="#089981"/><rect x="815" y="91" width="1" height="9" fill="#089981"/><rect x="813" y="96" width="5" height="4" fill="#089981"/><rect x="823" y="78" width="1" height="20" fill="#089981"/><rect x="821" y="85" width="5" height="12" fill="#089981"/><rect x="830" y="85" width="1" height="18" fill="#f23645"/><rect x="828" y="85" width="5" height="13" fill="#f23645"/><rect x="837" y="88" width="1" height="21" fill="#089981"/><rect x="835" y="91" width="5" height="8" fill="#089981"/><rect x="845" y="86" width="1" height="10" fill="#f23645"/><rect x="843" y="91" width="5" height="3" fill="#f23645"/><rect x="852" y="86" width="1" height="35" fill="#f23645"/><rect x="850" y="93" width="5" height="16" fill="#f23645"/><rect x="859" y="102" width="1" height="39" fill="#f23645"/><rect x="857" y="108" width="5" height="15" fill="#f23645"/><rect x="866" y="114" width="1" height="21" fill="#089981"/><rect x="864" y="116" width="5" height="7" fill="#089981"/><rect x="874" y="111" width="1" height="26" fill="#f23645"/><rect x="872" y="116" width="5" height="15" fill="#f23645"/><rect x="881" y="125" width="1" height="15" fill="#089981"/><rect x="879" y="128" width="5" height="3" fill="#089981"/><rect x="888" y="124" width="1" height="28" fill="#f23645"/><rect x="886" y="128" width="5" height="16" fill="#f23645"/><rect x="895" y="126" width="1" height="19" fill="#089981"/><rect x="893" y="130" width="5" height="13" fill="#089981"/><rect x="903" y="118" width="1" height="34" fill="#089981"/><rect x="901" y="128" width="5" height="3" fill="#089981"/><rect x="910" y="118" width="1" height="14" fill="#089981"/><rect x="908" y="121" width="5" height="8" fill="#089981"/><rect x="917" y="116" width="1" height="9" fill="#f23645"/><rect x="915" y="121" width="5" height="1" fill="#f23645"/><rect x="924" y="108" width="1" height="16" fill="#089981"/><rect x="922" y="111" width="5" height="11" fill="#089981"/><rect x="932" y="109" width="1" height="8" fill="#f23645"/><rect x="930" y="111" width="5" height="3" fill="#f23645"/><rect x="939" y="109" width="1" height="20" fill="#f23645"/><rect x="937" y="113" width="5" height="13" fill="#f23645"/><rect x="946" y="120" width="1" height="14" fill="#089981"/><rect x="944" y="124" width="5" height="2" fill="#089981"/><rect x="953" y="123" width="1" height="8" fill="#f23645"/><rect x="951" y="124" width="5" height="6" fill="#f23645"/><rect x="961" y="128" width="1" height="8" fill="#f23645"/><rect x="959" y="128" width="5" height="3" fill="#f23645"/><rect x="968" y="125" width="1" height="9" fill="#f23645"/><rect x="966" y="130" width="5" height="3" fill="#f23645"/><rect x="975" y="126" width="1" height="14" fill="#089981"/><rect x="973" y="128" width="5" height="5" fill="#089981"/><rect x="983" y="123" width="1" height="33" fill="#f23645"/><rect x="981" y="128" width="5" height="19" fill="#f23645"/><rect x="990" y="146" width="1" height="24" fill="#f23645"/><rect x="988" y="146" width="5" height="14" fill="#f23645"/><rect x="997" y="152" width="1" height="15" fill="#089981"/><rect x="995" y="155" width="5" height="5" fill="#089981"/><rect x="1004" y="131" width="1" height="26" fill="#089981"/><rect x="1002" y="133" width="5" height="23" fill="#089981"/><rect x="1012" y="124" width="1" height="11" fill="#089981"/><rect x="1010" y="128" width="5" height="6" fill="#089981"/><rect x="1019" y="124" width="1" height="9" fill="#089981"/><rect x="1017" y="127" width="5" height="1" fill="#089981"/><rect x="1026" y="118" width="1" height="17" fill="#f23645"/><rect x="1024" y="127" width="5" height="6" fill="#f23645"/><rect x="1033" y="125" width="1" height="13" fill="#f23645"/><rect x="1031" y="132" width="5" height="6" fill="#f23645"/><rect x="1041" y="133" width="1" height="13" fill="#f23645"/><rect x="1039" y="137" width="5" height="8" fill="#f23645"/><rect x="1048" y="131" width="1" height="16" fill="#089981"/><rect x="1046" y="132" width="5" height="13" fill="#089981"/><rect x="1055" y="130" width="1" height="19" fill="#f23645"/><rect x="1053" y="133" width="5" height="13" fill="#f23645"/><rect x="1062" y="141" width="1" height="6" fill="#f23645"/><rect x="1060" y="145" width="5" height="1" fill="#f23645"/><rect x="1070" y="139" width="1" height="7" fill="#089981"/><rect x="1068" y="142" width="5" height="4" fill="#089981"/><rect x="1077" y="130" width="1" height="16" fill="#089981"/><rect x="1075" y="134" width="5" height="9" fill="#089981"/><rect x="1084" y="132" width="1" height="12" fill="#f23645"/><rect x="1082" y="133" width="5" height="9" fill="#f23645"/><rect x="1091" y="113" width="1" height="29" fill="#089981"/><rect x="1089" y="115" width="5" height="27" fill="#089981"/><rect x="1099" y="112" width="1" height="12" fill="#f23645"/><rect x="1097" y="115" width="5" height="6" fill="#f23645"/><rect x="1106" y="108" width="1" height="13" fill="#089981"/><rect x="1104" y="110" width="5" height="11" fill="#089981"/><rect x="1113" y="108" width="1" height="4" fill="#f23645"/><rect x="1111" y="110" width="5" height="1" fill="#f23645"/><rect x="1121" y="106" width="1" height="11" fill="#f23645"/><rect x="1119" y="110" width="5" height="5" fill="#f23645"/><rect x="1128" y="91" width="1" height="25" fill="#089981"/><rect x="1126" y="92" width="5" height="24" fill="#089981"/><rect x="1135" y="86" width="1" height="16" fill="#f23645"/><rect x="1133" y="92" width="5" height="4" fill="#f23645"/><rect x="1142" y="90" width="1" height="10" fill="#f23645"/><rect x="1140" y="95" width="5" height="4" fill="#f23645"/><rect x="1150" y="92" width="1" height="22" fill="#f23645"/><rect x="1148" y="98" width="5" height="8" fill="#f23645"/><rect x="1157" y="97" width="1" height="15" fill="#089981"/><rect x="1155" y="101" width="5" height="5" fill="#089981"/><rect x="1164" y="95" width="1" height="7" fill="#089981"/><rect x="1162" y="97" width="5" height="5" fill="#089981"/><rect x="1171" y="96" width="1" height="8" fill="#f23645"/><rect x="1169" y="97" width="5" height="6" fill="#f23645"/><rect x="1179" y="89" width="1" height="14" fill="#089981"/><rect x="1177" y="97" width="5" height="6" fill="#089981"/><rect x="1186" y="96" width="1" height="13" fill="#f23645"/><rect x="1184" y="97" width="5" height="7" fill="#f23645"/><rect x="1193" y="100" width="1" height="9" fill="#f23645"/><rect x="1191" y="102" width="5" height="5" fill="#f23645"/><rect x="1200" y="96" width="1" height="13" fill="#089981"/><rect x="1198" y="102" width="5" height="6" fill="#089981"/><rect x="1208" y="98" width="1" height="14" fill="#f23645"/><rect x="1206" y="102" width="5" height="6" fill="#f23645"/><rect x="1215" y="105" width="1" height="3" fill="#089981"/><rect x="1213" y="106" width="5" height="2" fill="#089981"/><rect x="1222" y="102" width="1" height="7" fill="#089981"/><rect x="1220" y="106" width="5" height="1" fill="#089981"/><rect x="1229" y="92" width="1" height="15" fill="#089981"/><rect x="1227" y="100" width="5" height="7" fill="#089981"/><rect x="1237" y="87" width="1" height="14" fill="#089981"/><rect x="1235" y="90" width="5" height="10" fill="#089981"/><rect x="1244" y="83" width="1" height="8" fill="#089981"/><rect x="1242" y="87" width="5" height="4" fill="#089981"/><rect x="1251" y="83" width="1" height="9" fill="#f23645"/><rect x="1249" y="87" width="5" height="1" fill="#f23645"/><rect x="1258" y="82" width="1" height="20" fill="#f23645"/><rect x="1256" y="88" width="5" height="9" fill="#f23645"/><rect x="1266" y="95" width="1" height="2" fill="#f23645"/><rect x="1264" y="96" width="5" height="1" fill="#f23645"/><rect x="1273" y="93" width="1" height="4" fill="#089981"/><rect x="1271" y="95" width="5" height="2" fill="#089981"/><rect x="1280" y="92" width="1" height="6" fill="#f23645"/><rect x="1278" y="95" width="5" height="1" fill="#f23645"/><rect x="1288" y="95" width="1" height="20" fill="#f23645"/><rect x="1286" y="95" width="5" height="14" fill="#f23645"/><rect x="1295" y="104" width="1" height="6" fill="#089981"/><rect x="1293" y="105" width="5" height="4" fill="#089981"/></g><rect x="16" y="395" width="1355" height="85" fill="rgba(132,86,196,0.105)"/><line x1="15" y1="395.5" x2="1371" y2="395.5" stroke="#8f929c" stroke-width="1" stroke-dasharray="5,6" stroke-dashoffset="0"/><line x1="15" y1="437.5" x2="1371" y2="437.5" stroke="#8f929c" stroke-width="1" stroke-dasharray="5,6" stroke-dashoffset="0"/><line x1="15" y1="480.5" x2="1371" y2="480.5" stroke="#8f929c" stroke-width="1" stroke-dasharray="5,6" stroke-dashoffset="0"/><g clip-path="url(#rsi)"><path d="M15.0,425.8 L17.0,422.5 L24.3,410.6 L31.6,409.0 L38.8,407.3 L46.1,409.0 L53.4,417.2 L60.6,414.0 L67.9,430.1 L75.2,420.6 L82.4,430.4 L89.7,436.5 L96.9,435.2 L104.2,433.8 L111.5,414.3 L118.7,407.7 L126.0,432.3 L133.3,421.0 L140.5,421.0 L147.8,422.5 L155.0,423.8 L162.3,400.7 L169.6,410.6 L176.8,406.4 L184.1,410.6 L191.4,445.0 L198.6,443.7 L205.9,453.1 L213.1,446.5 L220.4,439.9 L227.7,443.3 L234.9,455.0 L242.2,451.6 L249.5,450.7 L256.7,451.6 L264.0,467.3 L271.2,463.0 L278.5,460.7 L285.8,462.2 L293.0,440.5 L300.3,436.5 L307.6,438.4 L314.8,425.7 L322.1,430.1 L329.4,434.2 L336.6,428.5 L343.9,428.0 L351.1,430.4 L358.4,435.5 L365.7,434.8 L372.9,429.5 L380.2,415.3 L387.5,404.9 L394.7,392.0 L402.0,388.8 L409.2,385.0 L416.5,376.9 L423.8,379.3 L431.0,369.5 L438.3,369.5 L445.6,368.9 L452.8,377.4 L460.1,375.2 L467.3,381.8 L474.6,379.0 L481.9,386.0 L489.1,396.4 L496.4,405.8 L503.7,400.2 L510.9,398.3 L518.2,380.3 L525.4,369.9 L532.7,357.9 L540.0,374.6 L547.2,370.8 L554.5,375.0 L561.8,372.1 L569.0,361.9 L576.3,395.4 L583.6,389.4 L590.8,387.5 L598.1,384.1 L605.3,383.7 L612.6,382.2 L619.9,376.5 L627.1,376.5 L634.4,372.7 L641.7,387.9 L648.9,401.1 L656.2,426.3 L663.4,414.3 L670.7,419.1 L678.0,444.1 L685.2,422.5 L692.5,431.9 L699.8,438.0 L707.0,437.1 L714.3,426.6 L721.5,418.5 L728.8,417.6 L736.1,420.4 L743.3,416.2 L750.6,419.5 L757.9,421.3 L765.1,414.7 L772.4,423.8 L779.6,442.7 L786.9,440.5 L794.2,429.5 L801.4,432.9 L808.7,428.0 L816.0,426.3 L823.2,418.5 L830.5,429.5 L837.8,424.8 L845.0,426.6 L852.3,440.8 L859.5,451.2 L866.8,445.2 L874.1,456.0 L881.3,453.5 L888.6,463.2 L895.9,450.7 L903.1,448.4 L910.4,442.7 L917.6,443.1 L924.9,432.9 L932.2,435.7 L939.4,446.9 L946.7,445.2 L954.0,449.0 L961.2,450.9 L968.5,452.8 L975.7,447.5 L983.0,461.7 L990.3,473.0 L997.5,467.7 L1004.8,443.3 L1012.1,437.6 L1019.3,437.4 L1026.6,442.2 L1033.8,446.9 L1041.1,453.1 L1048.4,440.5 L1055.6,452.2 L1062.9,452.2 L1070.2,447.8 L1077.4,438.4 L1084.7,446.1 L1092.0,421.3 L1099.2,427.0 L1106.5,418.5 L1113.7,419.5 L1121.0,423.4 L1128.3,406.4 L1135.5,410.6 L1142.8,414.9 L1150.1,421.5 L1157.3,418.5 L1164.6,415.3 L1171.8,421.3 L1179.1,416.2 L1186.4,422.9 L1193.6,429.1 L1200.9,424.4 L1208.2,431.4 L1215.4,429.9 L1222.7,429.5 L1229.9,421.9 L1237.2,411.9 L1244.5,408.7 L1251.7,410.6 L1259.0,424.2 L1266.3,424.4 L1273.5,421.9 L1280.8,422.9 L1288.1,444.1 L1295.3,438.9" fill="none" stroke="#7e57c2" stroke-width="1.5" stroke-linejoin="round"/></g><text x="15.5" y="29" font-family="Liberation Sans, sans-serif" font-size="17" fill="#d1d4dc" font-weight="normal" text-anchor="start" textLength="115.6" lengthAdjust="spacingAndGlyphs" stroke="#d1d4dc" stroke-width="0.45">AMBCrypto_TA</text><text x="137" y="29" font-family="Liberation Sans, sans-serif" font-size="17" fill="#d1d4dc" font-weight="normal" text-anchor="start" textLength="75.8" lengthAdjust="spacingAndGlyphs" stroke="#d1d4dc" stroke-width="0.45">published</text><text x="218.9" y="29" font-family="Liberation Sans, sans-serif" font-size="17" fill="#d1d4dc" font-weight="normal" text-anchor="start" textLength="18.9" lengthAdjust="spacingAndGlyphs" stroke="#d1d4dc" stroke-width="0.45">on</text><text x="243.8" y="29" font-family="Liberation Sans, sans-serif" font-size="17" fill="#d1d4dc" font-weight="normal" text-anchor="start" textLength="141.3" lengthAdjust="spacingAndGlyphs" stroke="#d1d4dc" stroke-width="0.45">TradingView.com,</text><text x="392.1" y="29" font-family="Liberation Sans, sans-serif" font-size="17" fill="#d1d4dc" font-weight="normal" text-anchor="start" textLength="27.2" lengthAdjust="spacingAndGlyphs" stroke="#d1d4dc" stroke-width="0.45">Jun</text><text x="426.3" y="29" font-family="Liberation Sans, sans-serif" font-size="17" fill="#d1d4dc" font-weight="normal" text-anchor="start" textLength="23.2" lengthAdjust="spacingAndGlyphs" stroke="#d1d4dc" stroke-width="0.45">12,</text><text x="456.7" y="29" font-family="Liberation Sans, sans-serif" font-size="17" fill="#d1d4dc" font-weight="normal" text-anchor="start" textLength="36.5" lengthAdjust="spacingAndGlyphs" stroke="#d1d4dc" stroke-width="0.45">2024</text><text x="500.7" y="29" font-family="Liberation Sans, sans-serif" font-size="17" fill="#d1d4dc" font-weight="normal" text-anchor="start" textLength="41.1" lengthAdjust="spacingAndGlyphs" stroke="#d1d4dc" stroke-width="0.45">16:01</text><text x="549.9" y="29" font-family="Liberation Sans, sans-serif" font-size="17" fill="#d1d4dc" font-weight="normal" text-anchor="start" textLength="75.9" lengthAdjust="spacingAndGlyphs" stroke="#d1d4dc" stroke-width="0.45">UTC+5:30</text><text x="27.8" y="69.7" font-family="Liberation Sans, sans-serif" font-size="17.2" fill="#b2b5be" font-weight="normal" text-anchor="start" textLength="54.6" lengthAdjust="spacingAndGlyphs" stroke="#b2b5be" stroke-width="0.45">Bitcoin</text><text x="89.9" y="69.7" font-family="Liberation Sans, sans-serif" font-size="17.2" fill="#b2b5be" font-weight="normal" text-anchor="start" textLength="6.6" lengthAdjust="spacingAndGlyphs" stroke="#b2b5be" stroke-width="0.45">/</text><text x="104.3" y="69.7" font-family="Liberation Sans, sans-serif" font-size="17.2" fill="#b2b5be" font-weight="normal" text-anchor="start" textLength="30.9" lengthAdjust="spacingAndGlyphs" stroke="#b2b5be" stroke-width="0.45">U.S.</text><text x="142.9" y="69.7" font-family="Liberation Sans, sans-serif" font-size="17.2" fill="#b2b5be" font-weight="normal" text-anchor="start" textLength="49.6" lengthAdjust="spacingAndGlyphs" stroke="#b2b5be" stroke-width="0.45">Dollar,</text><text x="200.4" y="69.7" font-family="Liberation Sans, sans-serif" font-size="17.2" fill="#b2b5be" font-weight="normal" text-anchor="start" textLength="24.6" lengthAdjust="spacingAndGlyphs" stroke="#b2b5be" stroke-width="0.45">1D,</text><text x="232.6" y="69.7" font-family="Liberation Sans, sans-serif" font-size="17.2" fill="#b2b5be" font-weight="normal" text-anchor="start" textLength="68.2" lengthAdjust="spacingAndGlyphs" stroke="#b2b5be" stroke-width="0.45">BINANCE</text><text x="312.1" y="69.7" font-family="Liberation Sans, sans-serif" font-size="17.2" fill="#b2b5be" font-weight="normal" text-anchor="start" textLength="12" lengthAdjust="spacingAndGlyphs" stroke="#b2b5be" stroke-width="0.45">O</text><text x="324.6" y="69.7" font-family="Liberation Sans, sans-serif" font-size="17.2" fill="#089981" font-weight="normal" text-anchor="start" textLength="78" lengthAdjust="spacingAndGlyphs" stroke="#089981" stroke-width="0.45">67,367.28</text><text x="414.7" y="69.7" font-family="Liberation Sans, sans-serif" font-size="17.2" fill="#b2b5be" font-weight="normal" text-anchor="start" textLength="10.5" lengthAdjust="spacingAndGlyphs" stroke="#b2b5be" stroke-width="0.45">H</text><text x="426.8" y="69.7" font-family="Liberation Sans, sans-serif" font-size="17.2" fill="#089981" font-weight="normal" text-anchor="start" textLength="77.5" lengthAdjust="spacingAndGlyphs" stroke="#089981" stroke-width="0.45">68,079.06</text><text x="516.4" y="69.7" font-family="Liberation Sans, sans-serif" font-size="17.2" fill="#b2b5be" font-weight="normal" text-anchor="start" textLength="8" lengthAdjust="spacingAndGlyphs" stroke="#b2b5be" stroke-width="0.45">L</text><text x="525.4" y="69.7" font-family="Liberation Sans, sans-serif" font-size="17.2" fill="#089981" font-weight="normal" text-anchor="start" textLength="78.3" lengthAdjust="spacingAndGlyphs" stroke="#089981" stroke-width="0.45">66,982.98</text><text x="615.8" y="69.7" font-family="Liberation Sans, sans-serif" font-size="17.2" fill="#b2b5be" font-weight="normal" text-anchor="start" textLength="10.5" lengthAdjust="spacingAndGlyphs" stroke="#b2b5be" stroke-width="0.45">C</text><text x="626.7" y="69.7" font-family="Liberation Sans, sans-serif" font-size="17.2" fill="#089981" font-weight="normal" text-anchor="start" textLength="78" lengthAdjust="spacingAndGlyphs" stroke="#089981" stroke-width="0.45">67,911.84</text><text x="716.8" y="69.7" font-family="Liberation Sans, sans-serif" font-size="17.2" fill="#089981" font-weight="normal" text-anchor="start" textLength="62.4" lengthAdjust="spacingAndGlyphs" stroke="#089981" stroke-width="0.45">+534.20</text><text x="786.8" y="69.7" font-family="Liberation Sans, sans-serif" font-size="17.2" fill="#089981" font-weight="normal" text-anchor="start" textLength="65.8" lengthAdjust="spacingAndGlyphs" stroke="#089981" stroke-width="0.45">(+0.79%)</text><text x="27.1" y="95.3" font-family="Liberation Sans, sans-serif" font-size="17.2" fill="#b2b5be" font-weight="normal" text-anchor="start" textLength="23.9" lengthAdjust="spacingAndGlyphs" stroke="#b2b5be" stroke-width="0.45">Vol</text><text x="57.6" y="95.3" font-family="Liberation Sans, sans-serif" font-size="17.2" fill="#b2b5be" font-weight="normal" text-anchor="start" textLength="4.8" lengthAdjust="spacingAndGlyphs" stroke="#b2b5be" stroke-width="0.45">·</text><text x="69.5" y="95.3" font-family="Liberation Sans, sans-serif" font-size="17.2" fill="#b2b5be" font-weight="normal" text-anchor="start" textLength="30.2" lengthAdjust="spacingAndGlyphs" stroke="#b2b5be" stroke-width="0.45">BTC</text><text x="111.2" y="95.3" font-family="Liberation Sans, sans-serif" font-size="17.2" fill="#22ab94" font-weight="normal" text-anchor="start" textLength="17.9" lengthAdjust="spacingAndGlyphs" stroke="#22ab94" stroke-width="0.45">49</text><text x="26.9" y="121.5" font-family="Liberation Sans, sans-serif" font-size="17.2" fill="#b2b5be" font-weight="normal" text-anchor="start" textLength="23.2" lengthAdjust="spacingAndGlyphs" stroke="#b2b5be" stroke-width="0.45">MA</text><text x="57" y="121.5" font-family="Liberation Sans, sans-serif" font-size="17.2" fill="#b2b5be" font-weight="normal" text-anchor="start" textLength="38.6" lengthAdjust="spacingAndGlyphs" stroke="#b2b5be" stroke-width="0.45">(200,</text><text x="103" y="121.5" font-family="Liberation Sans, sans-serif" font-size="17.2" fill="#b2b5be" font-weight="normal" text-anchor="start" textLength="40.4" lengthAdjust="spacingAndGlyphs" stroke="#b2b5be" stroke-width="0.45">close,</text><text x="155.7" y="121.5" font-family="Liberation Sans, sans-serif" font-size="17.2" fill="#b2b5be" font-weight="normal" text-anchor="start" textLength="13.9" lengthAdjust="spacingAndGlyphs" stroke="#b2b5be" stroke-width="0.45">0,</text><text x="177.3" y="121.5" font-family="Liberation Sans, sans-serif" font-size="17.2" fill="#b2b5be" font-weight="normal" text-anchor="start" textLength="33.7" lengthAdjust="spacingAndGlyphs" stroke="#b2b5be" stroke-width="0.45">SMA,</text><text x="219" y="121.5" font-family="Liberation Sans, sans-serif" font-size="17.2" fill="#b2b5be" font-weight="normal" text-anchor="start" textLength="17.7" lengthAdjust="spacingAndGlyphs" stroke="#b2b5be" stroke-width="0.45">5)</text><text x="248.8" y="121.5" font-family="Liberation Sans, sans-serif" font-size="17.2" fill="#2962ff" font-weight="normal" text-anchor="start" textLength="77.5" lengthAdjust="spacingAndGlyphs" stroke="#2962ff" stroke-width="0.45">56,088.46</text><text x="26.9" y="147.6" font-family="Liberation Sans, sans-serif" font-size="17.2" fill="#b2b5be" font-weight="normal" text-anchor="start" textLength="23.2" lengthAdjust="spacingAndGlyphs" stroke="#b2b5be" stroke-width="0.45">MA</text><text x="55.8" y="147.6" font-family="Liberation Sans, sans-serif" font-size="17.2" fill="#b2b5be" font-weight="normal" text-anchor="start" textLength="41.3" lengthAdjust="spacingAndGlyphs" stroke="#b2b5be" stroke-width="0.45">Cross</text><text x="104.8" y="147.6" font-family="Liberation Sans, sans-serif" font-size="17.2" fill="#b2b5be" font-weight="normal" text-anchor="start" textLength="28.6" lengthAdjust="spacingAndGlyphs" stroke="#b2b5be" stroke-width="0.45">(50,</text><text x="141.1" y="147.6" font-family="Liberation Sans, sans-serif" font-size="17.2" fill="#b2b5be" font-weight="normal" text-anchor="start" textLength="33.1" lengthAdjust="spacingAndGlyphs" stroke="#b2b5be" stroke-width="0.45">200)</text><text x="186.6" y="147.6" font-family="Liberation Sans, sans-serif" font-size="17.2" fill="#f7e13f" font-weight="normal" text-anchor="start" textLength="78.9" lengthAdjust="spacingAndGlyphs" stroke="#f7e13f" stroke-width="1.0">65,916.25</text><text x="277.7" y="147.6" font-family="Liberation Sans, sans-serif" font-size="17.2" fill="#2962ff" font-weight="normal" text-anchor="start" textLength="77.1" lengthAdjust="spacingAndGlyphs" stroke="#2962ff" stroke-width="0.45">56,088.46</text><text x="367.9" y="147.6" font-family="Liberation Sans, sans-serif" font-size="17.2" fill="#b2b5be" font-weight="normal" text-anchor="start" textLength="10" lengthAdjust="spacingAndGlyphs" stroke="#b2b5be" stroke-width="0.45">∅</text><text x="27.7" y="372.3" font-family="Liberation Sans, sans-serif" font-size="17.2" fill="#b2b5be" font-weight="normal" text-anchor="start" textLength="23.2" lengthAdjust="spacingAndGlyphs" stroke="#b2b5be" stroke-width="0.45">RSI</text><text x="57" y="372.3" font-family="Liberation Sans, sans-serif" font-size="17.2" fill="#b2b5be" font-weight="normal" text-anchor="start" textLength="30.1" lengthAdjust="spacingAndGlyphs" stroke="#b2b5be" stroke-width="0.45">(14,</text><text x="94" y="372.3" font-family="Liberation Sans, sans-serif" font-size="17.2" fill="#b2b5be" font-weight="normal" text-anchor="start" textLength="42.5" lengthAdjust="spacingAndGlyphs" stroke="#b2b5be" stroke-width="0.45">close,</text><text x="147.3" y="372.3" font-family="Liberation Sans, sans-serif" font-size="17.2" fill="#b2b5be" font-weight="normal" text-anchor="start" textLength="36.2" lengthAdjust="spacingAndGlyphs" stroke="#b2b5be" stroke-width="0.45">SMA,</text><text x="191.2" y="372.3" font-family="Liberation Sans, sans-serif" font-size="17.2" fill="#b2b5be" font-weight="normal" text-anchor="start" textLength="22.4" lengthAdjust="spacingAndGlyphs" stroke="#b2b5be" stroke-width="0.45">14,</text><text x="220.5" y="372.3" font-family="Liberation Sans, sans-serif" font-size="17.2" fill="#b2b5be" font-weight="normal" text-anchor="start" textLength="17" lengthAdjust="spacingAndGlyphs" stroke="#b2b5be" stroke-width="0.45">2)</text><text x="249.2" y="372.3" font-family="Liberation Sans, sans-serif" font-size="17.2" fill="#8a5fd0" font-weight="normal" text-anchor="start" textLength="43.9" lengthAdjust="spacingAndGlyphs" stroke="#8a5fd0" stroke-width="0.45">49.08</text><text x="304.9" y="372.3" font-family="Liberation Sans, sans-serif" font-size="17.2" fill="#b2b5be" font-weight="normal" text-anchor="start" textLength="10.4" lengthAdjust="spacingAndGlyphs" stroke="#b2b5be" stroke-width="0.45">∅</text><text x="327.6" y="372.3" font-family="Liberation Sans, sans-serif" font-size="17.2" fill="#b2b5be" font-weight="normal" text-anchor="start" textLength="10.4" lengthAdjust="spacingAndGlyphs" stroke="#b2b5be" stroke-width="0.45">∅</text><text x="1383.2" y="155.5" font-family="Liberation Sans, sans-serif" font-size="17.2" fill="#b2b5be" font-weight="normal" text-anchor="start" textLength="79" lengthAdjust="spacingAndGlyphs" stroke="#b2b5be" stroke-width="0.45">60,000.00</text><text x="1383.2" y="212.4" font-family="Liberation Sans, sans-serif" font-size="17.2" fill="#b2b5be" font-weight="normal" text-anchor="start" textLength="79" lengthAdjust="spacingAndGlyphs" stroke="#b2b5be" stroke-width="0.45">50,000.00</text><text x="1383.2" y="269.6" font-family="Liberation Sans, sans-serif" font-size="17.2" fill="#b2b5be" font-weight="normal" text-anchor="start" textLength="79" lengthAdjust="spacingAndGlyphs" stroke="#b2b5be" stroke-width="0.45">40,000.00</text><text x="1383.2" y="326" font-family="Liberation Sans, sans-serif" font-size="17.2" fill="#b2b5be" font-weight="normal" text-anchor="start" textLength="79" lengthAdjust="spacingAndGlyphs" stroke="#b2b5be" stroke-width="0.45">30,000.00</text><text x="1383.7" y="391.2" font-family="Liberation Sans, sans-serif" font-size="17.2" fill="#b2b5be" font-weight="normal" text-anchor="start" textLength="43.3" lengthAdjust="spacingAndGlyphs" stroke="#b2b5be" stroke-width="0.45">75.00</text><text x="1383.7" y="444.2" font-family="Liberation Sans, sans-serif" font-size="17.2" fill="#b2b5be" font-weight="normal" text-anchor="start" textLength="43.3" lengthAdjust="spacingAndGlyphs" stroke="#b2b5be" stroke-width="0.45">50.00</text><clipPath id="rsiscale"><rect x="1371" y="343" width="104" height="150"/></clipPath><g clip-path="url(#rsiscale)"><text x="1383.7" y="497.1" font-family="Liberation Sans, sans-serif" font-size="17.2" fill="#b2b5be" font-weight="normal" text-anchor="start" textLength="43.3" lengthAdjust="spacingAndGlyphs" stroke="#b2b5be" stroke-width="0.45">25.00</text></g><rect x="1376.5" y="46.5" width="92.5" height="38.5" rx="6" fill="#131620" stroke="#383b46" stroke-width="1.1"/><text x="1391.7" y="70.9" font-family="Liberation Sans, sans-serif" font-size="17.2" fill="#d1d4dc" font-weight="normal" text-anchor="start" textLength="30.6" lengthAdjust="spacingAndGlyphs" stroke="#d1d4dc" stroke-width="0.6">USD</text><clipPath id="c70"><rect x="1371" y="90.8" width="104" height="1.5"/></clipPath><g clip-path="url(#c70)"><text x="1383.2" y="99" font-family="Liberation Sans, sans-serif" font-size="17.2" fill="#b2b5be" font-weight="normal" text-anchor="start" textLength="78.4" lengthAdjust="spacingAndGlyphs" stroke="#b2b5be" stroke-width="0.45">70,000.00</text></g><path d="M1371,92 H1467 Q1470,92 1470,95 V137 Q1470,140 1467,140 H1371 Z" fill="#089981"/><text x="1383" y="111" font-family="Liberation Sans, sans-serif" font-size="17.2" fill="#ffffff" font-weight="normal" text-anchor="start" textLength="78.6" lengthAdjust="spacingAndGlyphs" stroke="#ffffff" stroke-width="0.6">67,911.84</text><text x="1383" y="132" font-family="Liberation Sans, sans-serif" font-size="17.2" fill="#c8e8e1" font-weight="normal" text-anchor="start" textLength="69.5" lengthAdjust="spacingAndGlyphs" stroke="#c8e8e1" stroke-width="0.6">13:28:59</text><text x="90.8" y="673.2" font-family="Liberation Sans, sans-serif" font-size="17.6" fill="#b2b5be" font-weight="normal" text-anchor="start" textLength="41" lengthAdjust="spacingAndGlyphs" stroke="#b2b5be" stroke-width="0.6">2024</text><text x="322" y="673.2" font-family="Liberation Sans, sans-serif" font-size="17.6" fill="#b2b5be" font-weight="normal" text-anchor="start" textLength="28.5" lengthAdjust="spacingAndGlyphs" stroke="#b2b5be" stroke-width="0.6">Feb</text><text x="532.5" y="673.2" font-family="Liberation Sans, sans-serif" font-size="17.6" fill="#b2b5be" font-weight="normal" text-anchor="start" textLength="30" lengthAdjust="spacingAndGlyphs" stroke="#b2b5be" stroke-width="0.6">Mar</text><text x="758.3" y="673.2" font-family="Liberation Sans, sans-serif" font-size="17.6" fill="#b2b5be" font-weight="normal" text-anchor="start" textLength="27.4" lengthAdjust="spacingAndGlyphs" stroke="#b2b5be" stroke-width="0.6">Apr</text><text x="974.5" y="673.2" font-family="Liberation Sans, sans-serif" font-size="17.6" fill="#b2b5be" font-weight="normal" text-anchor="start" textLength="30.4" lengthAdjust="spacingAndGlyphs" stroke="#b2b5be" stroke-width="0.6">May</text><text x="1201.1" y="673.2" font-family="Liberation Sans, sans-serif" font-size="17.6" fill="#b2b5be" font-weight="normal" text-anchor="start" textLength="27.5" lengthAdjust="spacingAndGlyphs" stroke="#b2b5be" stroke-width="0.6">Jun</text><text x="1329.2" y="673.2" font-family="Liberation Sans, sans-serif" font-size="17.6" fill="#b2b5be" font-weight="normal" text-anchor="start" textLength="17.9" lengthAdjust="spacingAndGlyphs" stroke="#b2b5be" stroke-width="0.6">18</text><g fill="#d1d4dc"><path d="M14.8,705.2 H27.2 V720.2 H20.7 V710.6 H14.8 Z"/><circle cx="32" cy="707.8" r="2.8"/><path d="M35.2,705.2 H44.3 L39,720.2 H31.5 Z"/></g><text x="49.2" y="720.8" font-family="Liberation Sans, sans-serif" font-size="19.8" fill="#d1d4dc" font-weight="normal" text-anchor="start" textLength="106.2" lengthAdjust="spacingAndGlyphs" stroke="#d1d4dc" stroke-width="0.45">TradingView</text></svg></body></html>
